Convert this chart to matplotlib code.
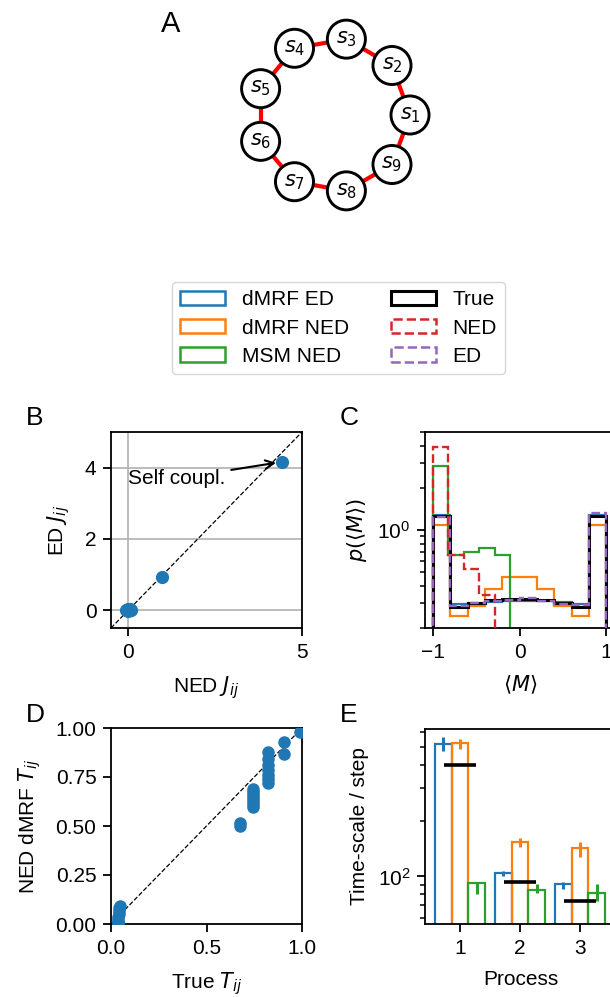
import numpy as np
import matplotlib
matplotlib.use("Agg")
import matplotlib.pyplot as plt
import matplotlib.patches as mpatches

plt.rcParams['font.family'] = ['Liberation Sans', 'DejaVu Sans']
plt.rcParams['font.size'] = 15
plt.rcParams['axes.linewidth'] = 1.3
plt.rcParams['axes.labelpad'] = 9
plt.rcParams['xtick.major.width'] = 1.3
plt.rcParams['ytick.major.width'] = 1.3
plt.rcParams['xtick.minor.width'] = 1.1
plt.rcParams['ytick.minor.width'] = 1.1
plt.rcParams['xtick.major.size'] = 6
plt.rcParams['ytick.major.size'] = 6
plt.rcParams['ytick.minor.size'] = 3.6
plt.rcParams['xtick.major.pad'] = 4.5
plt.rcParams['ytick.major.pad'] = 4.5
plt.rcParams['ytick.minor.pad'] = 4.5

# ---------------- data ----------------
# Panel A: ring of spins
spin_labels = ["$s_1$", "$s_2$", "$s_3$", "$s_4$", "$s_5$", "$s_6$", "$s_7$", "$s_8$", "$s_9$"]
ring_links = [(0, 1), (1, 2), (2, 3), (3, 4), (4, 5), (5, 6), (6, 7), (7, 8), (8, 0)]

# Panel B: couplings
ned_J = [4.41, 0.98, -0.06, -0.02, 0.0, 0.03, 0.06, 0.08]
ed_J = [4.16, 0.93, 0.0, 0.02, -0.01, 0.01, 0.03, 0.0]

# Panel C: histograms of <M>
M_edges = [-1.0, -0.8, -0.6, -0.4, -0.2, 0.0, 0.2, 0.4, 0.6, 0.8, 1.0]
M_edges_short = [-1.0, -0.8222, -0.6444, -0.4667, -0.2889, -0.1111]
p_dmrf_ed = [1.27, 0.296, 0.300, 0.309, 0.314, 0.314, 0.314, 0.309, 0.298, 1.27]
p_dmrf_ned = [1.093, 0.245, 0.288, 0.379, 0.464, 0.464, 0.379, 0.288, 0.245, 1.093]
p_msm_ned = [2.87, 0.66, 0.70, 0.745, 0.66]
p_true = [1.255, 0.281, 0.300, 0.315, 0.322, 0.322, 0.315, 0.300, 0.281, 1.255]
p_ned = [3.91, 0.66, 0.529, 0.345, 0.18]
p_ed = [1.24, 0.285, 0.300, 0.310, 0.318, 0.330, 0.310, 0.295, 0.290, 1.33]

# Panel D: transition matrix elements
true_T = [0.99, 0.905, 0.905,
          0.822, 0.822, 0.822, 0.822, 0.822, 0.822, 0.822,
          0.745, 0.745, 0.745, 0.745, 0.745, 0.745, 0.745,
          0.678, 0.678,
          0.035, 0.036, 0.038, 0.040, 0.042, 0.044, 0.045, 0.037]
ned_T = [0.98, 0.928, 0.868,
         0.876, 0.842, 0.813, 0.787, 0.761, 0.739, 0.720,
         0.690, 0.675, 0.660, 0.645, 0.628, 0.612, 0.597,
         0.502, 0.515,
         0.004, 0.018, 0.034, 0.050, 0.065, 0.080, 0.090, 0.010]

# Panel E: time-scales
processes = [1, 2, 3]
ts_dmrf_ed = [516, 103.4, 90.2]
ts_dmrf_ed_lo = [472, 100, 85.9]
ts_dmrf_ed_hi = [566, 106.4, 92.9]
ts_dmrf_ned = [525, 151.7, 141.6]
ts_dmrf_ned_lo = [488, 145, 128]
ts_dmrf_ned_hi = [548, 162, 154]
ts_msm_ned = [91.4, 84.1, 80.7]
ts_msm_ned_lo = [80.7, 81.5, 73.4]
ts_msm_ned_hi = [91.8, 91, 91]
ts_true = [400, 93.6, 73.8]

C_BLUE, C_ORANGE, C_GREEN = '#1f77b4', '#ff7f0e', '#2ca02c'
C_RED, C_PURPLE = '#d62728', '#9467bd'

W, H = 610, 997
fig = plt.figure(figsize=(W / 100, H / 100), dpi=100)


def px_axes(x0, y0, x1, y1):
    return fig.add_axes([x0 / W, 1 - y1 / H, (x1 - x0) / W, (y1 - y0) / H])


# ---------------- Panel A ----------------
axA = px_axes(213, -5, 453, 235)
axA.set_xlim(-1.558, 1.558)
axA.set_ylim(-1.558, 1.558)
axA.axis('off')
ang = 2 * np.pi * np.arange(len(spin_labels)) / len(spin_labels)
nx_, ny_ = np.cos(ang), np.sin(ang)
for a, b in ring_links:
    axA.plot([nx_[a], nx_[b]], [ny_[a], ny_[b]], color='red', lw=3.0, zorder=1)
for i, lab in enumerate(spin_labels):
    axA.add_patch(mpatches.Circle((nx_[i], ny_[i]), 0.247, facecolor='white',
                                  edgecolor='black', lw=2.1, zorder=2))
    axA.text(nx_[i], ny_[i], lab, ha='center', va='center', fontsize=15, zorder=3)

# ---------------- Legend ----------------
handles = [
    mpatches.Patch(facecolor='none', edgecolor=C_BLUE, lw=1.8, label='dMRF ED'),
    mpatches.Patch(facecolor='none', edgecolor=C_ORANGE, lw=1.8, label='dMRF NED'),
    mpatches.Patch(facecolor='none', edgecolor=C_GREEN, lw=1.8, label='MSM NED'),
    mpatches.Patch(facecolor='none', edgecolor='black', lw=2.2, label='True'),
    mpatches.Patch(facecolor='none', edgecolor=C_RED, lw=1.8, ls='--', label='NED'),
    mpatches.Patch(facecolor='none', edgecolor=C_PURPLE, lw=1.8, ls='--', label='ED'),
]
fig.legend(handles=handles, ncol=2, loc='center', bbox_to_anchor=(338.5 / W, 1 - 328 / H),
           fontsize=15, handlelength=2.15, handleheight=0.7, handletextpad=0.8,
           columnspacing=2.0, labelspacing=0.45, borderpad=0.4)

# ---------------- Panel B ----------------
axB = px_axes(111, 432, 302, 628)
axB.set_xlim(-0.5, 5)
axB.set_ylim(-0.5, 5)
axB.plot([-0.5, 5], [-0.5, 5], 'k--', lw=0.9, zorder=1)
axB.plot(ned_J, ed_J, 'o', color=C_BLUE, ms=8.5, zorder=3)
axB.set_xticks([0, 5])
axB.set_yticks([0, 2, 4])
axB.grid(True, color='#b0b0b0', lw=1.2)
axB.set_axisbelow(True)
axB.annotate('Self coupl.', xy=(ned_J[0], ed_J[0]), xytext=(0.0, 3.54),
             ha='left', va='baseline', fontsize=15,
             arrowprops=dict(arrowstyle='->', color='black', lw=1.5, shrinkB=4))
axB.set_xlabel('NED $J_{ij}$')
axB.set_ylabel('ED $J_{ij}$')

# ---------------- Panel C ----------------
axC = px_axes(425, 432, 616, 628)
axC.set_yscale('log')
base = 1e-3
def stairs(ax, vals, edges, **kw):
    v = np.where(np.asarray(vals) > 0, vals, base)
    ax.stairs(v, edges, baseline=base, fill=False, **kw)

stairs(axC, p_dmrf_ed, M_edges, color=C_BLUE, lw=1.6, zorder=2)
stairs(axC, p_dmrf_ned, M_edges, color=C_ORANGE, lw=1.6, zorder=2)
stairs(axC, p_msm_ned, M_edges_short, color=C_GREEN, lw=1.6, zorder=2)
stairs(axC, p_true, M_edges, color='black', lw=2.2, zorder=3)
stairs(axC, p_ned, M_edges_short, color=C_RED, lw=1.7, ls='--', zorder=4)
stairs(axC, p_ed, M_edges, color=C_PURPLE, lw=1.7, ls='--', zorder=5)
axC.set_xlim(-1.09, 1.11)
axC.set_ylim(0.2, 5)
axC.set_xticks([-1, 0, 1])
axC.set_xticklabels(['\u22121', '0', '1'])
axC.set_xlabel(r'$\langle M\rangle$')
axC.set_ylabel(r'$p(\langle M\rangle)$', labelpad=6)

# ---------------- Panel D ----------------
axD = px_axes(111, 728, 302, 924)
axD.plot([0, 1], [0, 1], 'k--', lw=0.9, zorder=1)
axD.plot(true_T, ned_T, 'o', color=C_BLUE, ms=8, zorder=3)
axD.set_xlim(0, 1)
axD.set_ylim(0, 1)
axD.set_xticks([0, 0.5, 1.0])
axD.set_xticklabels(['0.0', '0.5', '1.0'])
axD.set_yticks([0, 0.25, 0.5, 0.75, 1.0])
axD.set_yticklabels(['0.00', '0.25', '0.50', '0.75', '1.00'])
axD.set_xlabel('True $T_{ij}$')
axD.set_ylabel('NED dMRF $T_{ij}$')

# ---------------- Panel E ----------------
axE = px_axes(425, 729, 616, 924)
axE.set_yscale('log')
bw = 0.278
proc = np.asarray(processes, dtype=float)
series = [
    (ts_dmrf_ed, ts_dmrf_ed_lo, ts_dmrf_ed_hi, C_BLUE, -bw),
    (ts_dmrf_ned, ts_dmrf_ned_lo, ts_dmrf_ned_hi, C_ORANGE, 0.0),
    (ts_msm_ned, ts_msm_ned_lo, ts_msm_ned_hi, C_GREEN, bw),
]
for vals, lo, hi, col, off in series:
    vals = np.asarray(vals); lo = np.asarray(lo); hi = np.asarray(hi)
    axE.bar(proc + off, vals, width=bw, bottom=1, fill=False, edgecolor=col, lw=1.6, zorder=2)
    axE.errorbar(proc + off, vals, yerr=[vals - lo, hi - vals], fmt='none',
                 ecolor=col, elinewidth=2.2, capsize=0, zorder=3)
axE.hlines(ts_true, proc - 0.267, proc + 0.267, color='black', lw=2.6, zorder=4)
axE.set_xlim(0.417, 3.6)
axE.set_ylim(55.5, 622)
axE.set_xticks(processes)
axE.set_xlabel('Process')
axE.set_ylabel('Time-scale / step', labelpad=6)

# ---------------- Panel letters ----------------
letter_kw = dict(fontsize=19, va='baseline', ha='left')
fig.text(161 / W, 1 - 32 / H, 'A', fontsize=21, va='baseline', ha='left')
fig.text(26 / W, 1 - 425 / H, 'B', **letter_kw)
fig.text(340 / W, 1 - 425 / H, 'C', **letter_kw)
fig.text(26 / W, 1 - 722 / H, 'D', **letter_kw)
fig.text(340 / W, 1 - 722 / H, 'E', **letter_kw)

fig.savefig('out.png', dpi=100)
